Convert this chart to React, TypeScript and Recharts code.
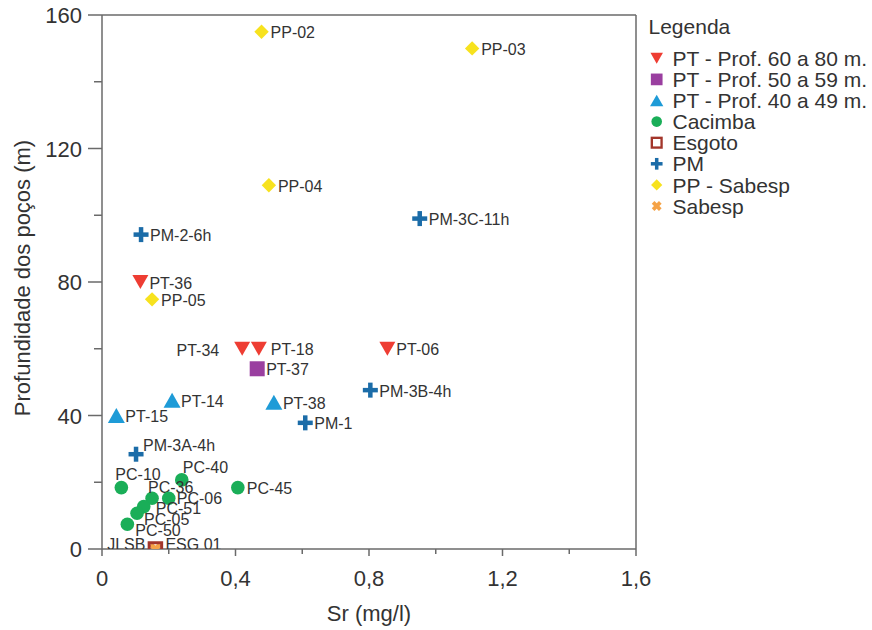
import React from 'react';
import { ScatterChart, Scatter, XAxis, YAxis, ReferenceLine } from 'recharts';

const FONT = '"Liberation Sans", Arial, Helvetica, sans-serif';
const TEXT = '#333333';
const AXIS = '#6a6a6a';

// Sr concentration (mg/l) against well depth (m), one array per well group
const pt60to80 = [
  { name: 'PT-36', sr: 0.115, depth: 80 },
  { name: 'PT-34', sr: 0.42, depth: 60 },
  { name: 'PT-18', sr: 0.47, depth: 60 },
  { name: 'PT-06', sr: 0.855, depth: 60 },
];
const pt50to59 = [{ name: 'PT-37', sr: 0.465, depth: 54 }];
const pt40to49 = [
  { name: 'PT-15', sr: 0.043, depth: 40 },
  { name: 'PT-14', sr: 0.21, depth: 44.6 },
  { name: 'PT-38', sr: 0.515, depth: 44 },
];
const cacimba = [
  { name: 'PC-10', sr: 0.058, depth: 18.4 },
  { name: 'PC-40', sr: 0.239, depth: 20.7 },
  { name: 'PC-45', sr: 0.407, depth: 18.4 },
  { name: 'PC-36', sr: 0.15, depth: 15.2 },
  { name: 'PC-06', sr: 0.2, depth: 15.2 },
  { name: 'PC-51', sr: 0.125, depth: 12.7 },
  { name: 'PC-05', sr: 0.105, depth: 10.7 },
  { name: 'PC-50', sr: 0.076, depth: 7.4 },
];
const esgoto = [{ name: 'ESG 01', sr: 0.16, depth: 0 }];
const pm = [
  { name: 'PM-2-6h', sr: 0.117, depth: 94.2 },
  { name: 'PM-3C-11h', sr: 0.952, depth: 99 },
  { name: 'PM-3B-4h', sr: 0.804, depth: 47.6 },
  { name: 'PM-1', sr: 0.609, depth: 37.8 },
  { name: 'PM-3A-4h', sr: 0.102, depth: 28.4 },
];
const ppSabesp = [
  { name: 'PP-02', sr: 0.478, depth: 155 },
  { name: 'PP-03', sr: 1.109, depth: 150 },
  { name: 'PP-04', sr: 0.5, depth: 109 },
  { name: 'PP-05', sr: 0.15, depth: 74.8 },
];
const sabesp = [{ name: 'JLSB', sr: 0.16, depth: 0 }];

const xTicks = [0, 0.2, 0.4, 0.6, 0.8, 1.0, 1.2, 1.4, 1.6];
const yTicks = [0, 20, 40, 60, 80, 100, 120, 140, 160];

const legendTitle = 'Legenda';
const legendLabels = [
  'PT - Prof. 60 a 80 m.',
  'PT - Prof. 50 a 59 m.',
  'PT - Prof. 40 a 49 m.',
  'Cacimba',
  'Esgoto',
  'PM',
  'PP - Sabesp',
  'Sabesp',
];

type Kind = 'triDown' | 'square' | 'triUp' | 'circle' | 'hollow' | 'plus' | 'diamond' | 'cross';

const COLORS: Record<Kind, string> = {
  triDown: '#ee3d33',
  square: '#9a3fa0',
  triUp: '#1e9bd7',
  circle: '#1aae58',
  hollow: '#a3362b',
  plus: '#1b6ca8',
  diamond: '#f7e21e',
  cross: '#f5a347',
};

const legendKinds: Kind[] = ['triDown', 'square', 'triUp', 'circle', 'hollow', 'plus', 'diamond', 'cross'];

// label offsets for crowded points (default: right of the marker)
const labelPlacement: Record<string, { dx: number; dy: number; anchor?: 'start' | 'end' }> = {
  'PT-34': { dx: -23, dy: 2, anchor: 'end' },
  'PT-18': { dx: 12, dy: 1 },
  'PM-3A-4h': { dx: 7, dy: -9 },
  'PC-10': { dx: -6, dy: -13 },
  'PC-40': { dx: 1, dy: -13 },
  'PC-36': { dx: -4, dy: -11 },
  'PC-06': { dx: 8, dy: 0 },
  'PC-51': { dx: 12, dy: 2 },
  'PC-05': { dx: 7, dy: 6 },
  'PC-50': { dx: 8, dy: 6 },
  JLSB: { dx: -10, dy: -5, anchor: 'end' },
  'ESG 01': { dx: 10, dy: -5 },
};

function Marker({ kind, cx, cy, k = 1, legend = false }: { kind: Kind; cx: number; cy: number; k?: number; legend?: boolean }) {
  const c = COLORS[kind];
  switch (kind) {
    case 'triDown': {
      const w = 16 * k, h = 14 * k;
      return <polygon points={`${cx - w / 2},${cy - h / 2} ${cx + w / 2},${cy - h / 2} ${cx},${cy + h / 2}`} fill={c} />;
    }
    case 'triUp': {
      const w = 17 * k, h = 15 * k;
      return <polygon points={`${cx - w / 2},${cy + h / 2} ${cx + w / 2},${cy + h / 2} ${cx},${cy - h / 2}`} fill={c} />;
    }
    case 'square': {
      const s = 15 * k;
      return <rect x={cx - s / 2} y={cy - s / 2} width={s} height={s} fill={c} />;
    }
    case 'circle':
      return <circle cx={cx} cy={cy} r={6.8 * k} fill={c} />;
    case 'hollow': {
      const s = 12.5 * k;
      return <rect x={cx - s / 2} y={cy - s / 2} width={s} height={s} fill={legend ? '#ffffff' : 'none'} stroke={c} strokeWidth={3 * k} />;
    }
    case 'plus': {
      const L = 15 * k, t = 4.5 * k;
      return (
        <g fill={c}>
          <rect x={cx - L / 2} y={cy - t / 2} width={L} height={t} />
          <rect x={cx - t / 2} y={cy - L / 2} width={t} height={L} />
        </g>
      );
    }
    case 'diamond': {
      const r = 7.2 * k;
      return <polygon points={`${cx},${cy - r} ${cx + r},${cy} ${cx},${cy + r} ${cx - r},${cy}`} fill={c} />;
    }
    case 'cross': {
      const r = 4.6 * k;
      return (
        <g stroke={c} strokeWidth={4.8 * k} strokeLinecap="butt">
          <line x1={cx - r} y1={cy - r} x2={cx + r} y2={cy + r} />
          <line x1={cx - r} y1={cy + r} x2={cx + r} y2={cy - r} />
        </g>
      );
    }
  }
  return null;
}

const makeShape = (kind: Kind) => (props: any) => {
  const { cx, cy, payload } = props;
  const name: string = payload?.name ?? '';
  const p = labelPlacement[name] ?? { dx: 9, dy: 1 };
  return (
    <g>
      <Marker kind={kind} cx={cx} cy={cy} />
      <text
        x={cx + p.dx}
        y={cy + p.dy + 5.6}
        textAnchor={p.anchor ?? 'start'}
        fontSize={16}
        fontFamily={FONT}
        fill={TEXT}
      >
        {name}
      </text>
    </g>
  );
};

const fmtSr = (v: number) => (v === 0 ? '0' : v.toFixed(1).replace('.', ','));

const XTick = (props: any) => {
  const { x, y, payload } = props;
  const v: number = payload.value;
  const major = Math.round(v * 10) % 4 === 0;
  return (
    <g>
      <line x1={x} x2={x} y1={y} y2={y + (major ? 7 : 5)} stroke={AXIS} strokeWidth={1.5} />
      {major && (
        <text x={x} y={y + 37} textAnchor="middle" fontSize={22} fontFamily={FONT} fill={TEXT}>
          {fmtSr(v)}
        </text>
      )}
    </g>
  );
};

const YTick = (props: any) => {
  const { x, y, payload } = props;
  const v: number = payload.value;
  const major = v % 40 === 0;
  return (
    <g>
      <line x1={x - (major ? 14 : 8)} x2={x} y1={y} y2={y} stroke={AXIS} strokeWidth={1.5} />
      {major && (
        <text x={x - 20} y={y + 8} textAnchor="end" fontSize={22} fontFamily={FONT} fill={TEXT}>
          {v}
        </text>
      )}
    </g>
  );
};

const LegendBox = () => (
  <svg width={232} height={230} style={{ position: 'absolute', left: 640, top: 0 }}>
    <text x={8.5} y={34} fontSize={21} fontFamily={FONT} fill={TEXT}>
      {legendTitle}
    </text>
    {legendLabels.map((label, i) => {
      const cy = 58.3 + i * 21.1;
      return (
        <g key={label}>
          <Marker kind={legendKinds[i]} cx={16.7} cy={cy} k={0.78} legend />
          <text x={32.5} y={cy + 7.6} fontSize={21} fontFamily={FONT} fill={TEXT}>
            {label}
          </text>
        </g>
      );
    })}
  </svg>
);

export default function App() {
  return (
    <div style={{ position: 'absolute', left: 0, top: 0, width: 872, height: 630, background: '#ffffff' }}>
      <ScatterChart width={872} height={630} margin={{ top: 15, right: 236, bottom: 0, left: 0 }}>
        <XAxis
          type="number"
          dataKey="sr"
          domain={[0, 1.6]}
          ticks={xTicks}
          interval={0}
          height={81}
          tickSize={0}
          tickMargin={0}
          tickLine={false}
          axisLine={{ stroke: AXIS, strokeWidth: 1.5 }}
          tick={<XTick />}
          allowDataOverflow
          label={{ value: 'Sr (mg/l)', position: 'insideBottom', offset: 9, fontSize: 22, fontFamily: FONT, fill: TEXT }}
        />
        <YAxis
          type="number"
          dataKey="depth"
          domain={[0, 160]}
          ticks={yTicks}
          interval={0}
          width={102}
          tickSize={0}
          tickMargin={0}
          tickLine={false}
          axisLine={{ stroke: AXIS, strokeWidth: 1.5 }}
          tick={<YTick />}
          allowDataOverflow
          label={{
            value: 'Profundidade dos poços (m)',
            content: () => (
              <text
                x={22}
                y={278}
                transform="rotate(-90, 22, 278)"
                textAnchor="middle"
                dominantBaseline="central"
                fontSize={22}
                fontFamily={FONT}
                fill={TEXT}
              >
                Profundidade dos poços (m)
              </text>
            ),
          }}
        />
        <ReferenceLine y={160} stroke={AXIS} strokeWidth={1.5} />
        <ReferenceLine x={1.6} stroke={AXIS} strokeWidth={1.5} />
        <Scatter name="PT - Prof. 60 a 80 m." data={pt60to80} shape={makeShape('triDown')} isAnimationActive={false} />
        <Scatter name="PT - Prof. 50 a 59 m." data={pt50to59} shape={makeShape('square')} isAnimationActive={false} />
        <Scatter name="PT - Prof. 40 a 49 m." data={pt40to49} shape={makeShape('triUp')} isAnimationActive={false} />
        <Scatter name="Cacimba" data={cacimba} shape={makeShape('circle')} isAnimationActive={false} />
        <Scatter name="PM" data={pm} shape={makeShape('plus')} isAnimationActive={false} />
        <Scatter name="PP - Sabesp" data={ppSabesp} shape={makeShape('diamond')} isAnimationActive={false} />
        <Scatter name="Sabesp" data={sabesp} shape={makeShape('cross')} isAnimationActive={false} />
        <Scatter name="Esgoto" data={esgoto} shape={makeShape('hollow')} isAnimationActive={false} />
      </ScatterChart>
      <LegendBox />
    </div>
  );
}
